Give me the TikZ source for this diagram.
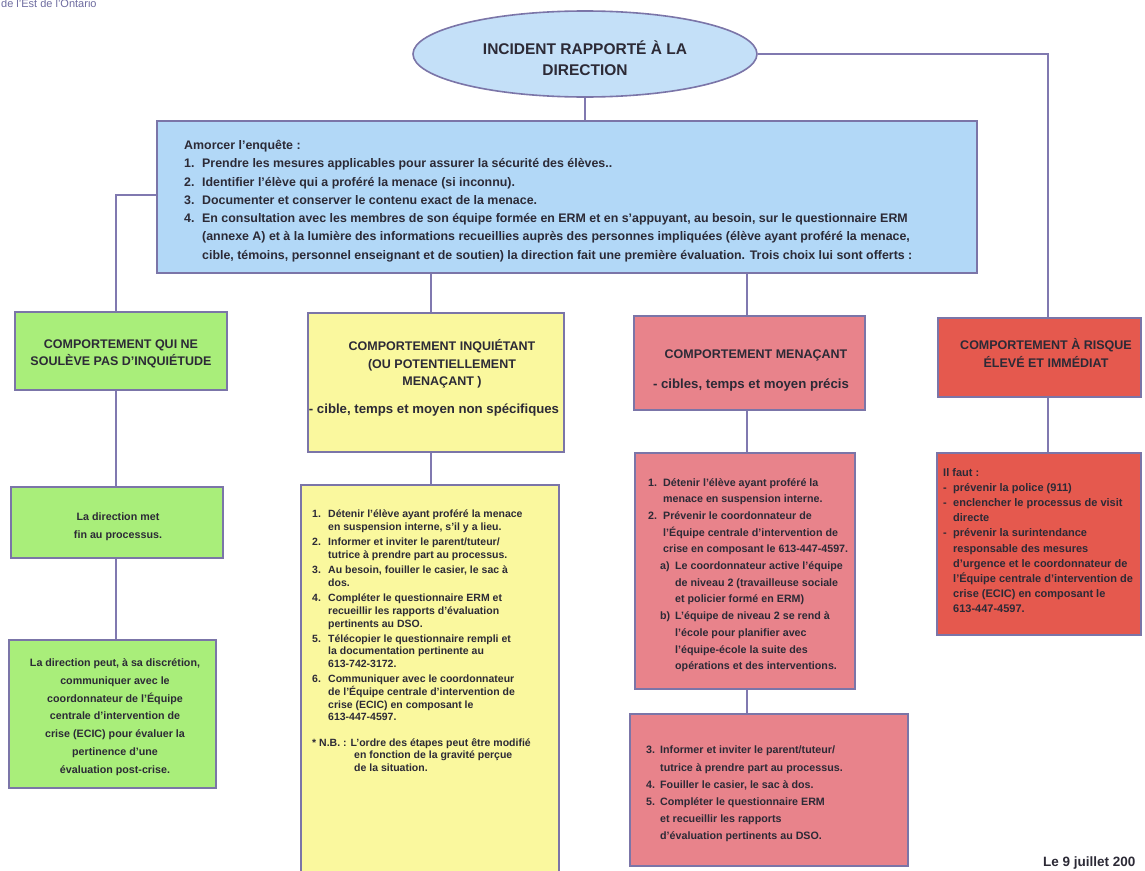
\documentclass[tikz,border=0pt]{standalone}
\usepackage{fontspec}
\setmainfont{Liberation Sans}
\usetikzlibrary{shapes.geometric,fit}
\definecolor{linec}{HTML}{8079B0}
\definecolor{boxc}{HTML}{7B75A8}
\definecolor{ellfill}{HTML}{C4E0F8}
\definecolor{bluefill}{HTML}{B2D8F7}
\definecolor{greenfill}{HTML}{A9EE7A}
\definecolor{yellowfill}{HTML}{FAF89E}
\definecolor{pinkfill}{HTML}{E8838B}
\definecolor{redfill}{HTML}{E5594E}
\definecolor{txtc}{HTML}{2C2A36}
\definecolor{topc}{HTML}{6E6CA0}
\newcommand{\fsTitle}{\fontsize{15.5}{21}\selectfont\bfseries}
\newcommand{\fsHead}{\fontsize{12.5}{17.5}\selectfont\bfseries}
\newcommand{\fsSub}{\fontsize{13.2}{17.5}\selectfont\bfseries}
\newcommand{\fsBlue}{\fontsize{12.4}{18.3}\selectfont\bfseries}
\newcommand{\fsY}{\fontsize{10.5}{12.7}\selectfont\bfseries}
\newcommand{\fsP}{\fontsize{10.7}{16.7}\selectfont\bfseries}
\newcommand{\fsPb}{\fontsize{10.7}{17.2}\selectfont\bfseries}
\newcommand{\fsG}{\fontsize{10.7}{17.8}\selectfont\bfseries}
\newcommand{\fsR}{\fontsize{11}{15.2}\selectfont\bfseries}
\newcommand{\itm}[2]{\makebox[#1][l]{#2}}
\begin{document}
\begin{tikzpicture}[x=1pt,y=-1pt,
  box/.style={draw=boxc, line width=1.8pt, inner sep=0pt},
  conn/.style={draw=linec, line width=1.5pt},
  txt/.style={text=txtc, inner sep=0pt}]
\useasboundingbox (0,0) rectangle (1145,870);
\clip (0,0) rectangle (1145,870);
\fill[white] (0,0) rectangle (1145,870);

% header text (cut off at top)
\node[anchor=base west, text=topc, inner sep=0pt, font=\fontsize{11}{12}\selectfont] (org) at (1,7) {de l'Est de l'Ontario};

% ellipse
\node[ellipse, draw=boxc, line width=1.6pt, fill=ellfill, minimum width=344pt, minimum height=86pt, inner sep=0pt] (ell) at (585,54) {};
\node[txt, font=\fsTitle, align=center] (ellt) at (585,58) {INCIDENT RAPPORTÉ À LA\\DIRECTION};

% blue box
\node[box, fill=bluefill, fit={(157,121) (977,273)}] (blue) {};
\node[txt, font=\fsBlue, align=left, anchor=north west] (bluet) at (184,140) {Amorcer l'enquête :\\
\itm{18pt}{1.}Prendre les mesures applicables pour assurer la sécurité des élèves..\\
\itm{18pt}{2.}Identifier l'élève qui a proféré la menace (si inconnu).\\
\itm{18pt}{3.}Documenter et conserver le contenu exact de la menace.\\
\itm{18pt}{4.}En consultation avec les membres de son équipe formée en ERM et en s'appuyant, au besoin, sur le questionnaire ERM\\
\hspace*{18pt}(annexe A) et à la lumière des informations recueillies auprès des personnes impliquées (élève ayant proféré la menace,\\
\hspace*{18pt}cible, témoins, personnel enseignant et de soutien) la direction fait une première évaluation. Trois choix lui sont offerts :};

% green column
\node[box, fill=greenfill, fit={(15,312) (227,390)}] (g1) {};
\node[txt, font=\fsHead, align=center] (g1t) at (121,354) {COMPORTEMENT QUI NE\\SOULÈVE PAS D'INQUIÉTUDE};
\node[box, fill=greenfill, fit={(11,487) (223,558)}] (g2) {};
\node[txt, font=\fsG, align=center] (g2t) at (118,527) {La direction met\\fin au processus.};
\node[box, fill=greenfill, fit={(9,640) (216,788)}] (g3) {};
\node[txt, font=\fsG, align=center] (g3t) at (115,717) {La direction peut, à sa discrétion,\\communiquer avec le\\coordonnateur de l'Équipe\\centrale d'intervention de\\crise (ECIC) pour évaluer la\\pertinence d'une\\évaluation post-crise.};

% yellow column
\node[box, fill=yellowfill, fit={(308,313) (564,452)}] (y1) {};
\node[txt, font=\fsHead, align=center] (y1t) at (442,364) {COMPORTEMENT INQUIÉTANT\\(OU POTENTIELLEMENT\\MENAÇANT )};
\node[txt, font=\fsSub] (y1s) at (434,410) {- cible, temps et moyen non spécifiques};
\node[box, fill=yellowfill, fit={(301,485) (559,880)}] (y2) {};
\node[txt, font=\fsY, align=left, anchor=north west] (y2t) at (312,510) {%
\itm{16pt}{1.}Détenir l'élève ayant proféré la menace\\
\hspace*{16pt}en suspension interne, s'il y a lieu.\\[2.5pt]
\itm{16pt}{2.}Informer et inviter le parent/tuteur/\\
\hspace*{16pt}tutrice à prendre part au processus.\\[2.5pt]
\itm{16pt}{3.}Au besoin, fouiller le casier, le sac à\\
\hspace*{16pt}dos.\\[2.5pt]
\itm{16pt}{4.}Compléter le questionnaire ERM et\\
\hspace*{16pt}recueillir les rapports d'évaluation\\
\hspace*{16pt}pertinents au DSO.\\[2.5pt]
\itm{16pt}{5.}Télécopier le questionnaire rempli et\\
\hspace*{16pt}la documentation pertinente au\\
\hspace*{16pt}613-742-3172.\\[2.5pt]
\itm{16pt}{6.}Communiquer avec le coordonnateur\\
\hspace*{16pt}de l'Équipe centrale d'intervention de\\
\hspace*{16pt}crise (ECIC) en composant le\\
\hspace*{16pt}613-447-4597.\\[12.5pt]
* N.B. : L'ordre des étapes peut être modifié\\
\hspace*{42pt}en fonction de la gravité perçue\\
\hspace*{42pt}de la situation.};

% pink column
\node[box, fill=pinkfill, fit={(634,316) (865,410)}] (p1) {};
\node[txt, font=\fsHead] (p1t) at (756,355) {COMPORTEMENT MENAÇANT};
\node[txt, font=\fsSub] (p1s) at (751,385) {- cibles, temps et moyen précis};
\node[box, fill=pinkfill, fit={(635,453) (855,689)}] (p2) {};
\node[txt, font=\fsP, align=left, anchor=north west] (p2t) at (648,478) {%
\itm{15pt}{1.}Détenir l'élève ayant proféré la\\
\hspace*{15pt}menace en suspension interne.\\
\itm{15pt}{2.}Prévenir le coordonnateur de\\
\hspace*{15pt}l'Équipe centrale d'intervention de\\
\hspace*{15pt}crise en composant le 613-447-4597.\\
\hspace*{12pt}\itm{15pt}{a)}Le coordonnateur active l'équipe\\
\hspace*{27pt}de niveau 2 (travailleuse sociale\\
\hspace*{27pt}et policier formé en ERM)\\
\hspace*{12pt}\itm{15pt}{b)}L'équipe de niveau 2 se rend à\\
\hspace*{27pt}l'école pour planifier avec\\
\hspace*{27pt}l'équipe-école la suite des\\
\hspace*{27pt}opérations et des interventions.};
\node[box, fill=pinkfill, fit={(630,714) (908,866)}] (p3) {};
\node[txt, font=\fsPb, align=left, anchor=north west] (p3t) at (646,746) {%
\itm{14pt}{3.}Informer et inviter le parent/tuteur/\\
\hspace*{14pt}tutrice à prendre part au processus.\\
\itm{14pt}{4.}Fouiller le casier, le sac à dos.\\
\itm{14pt}{5.}Compléter le questionnaire ERM\\
\hspace*{14pt}et recueillir les rapports\\
\hspace*{14pt}d'évaluation pertinents au DSO.};

% red column
\node[box, fill=redfill, fit={(938,318) (1141,397)}] (r1) {};
\node[txt, font=\fsHead, align=center] (r1t) at (1046,353) {COMPORTEMENT À RISQUE\\ÉLEVÉ ET IMMÉDIAT};
\node[box, fill=redfill, fit={(937,453) (1141,635)}] (r2) {};
\node[txt, font=\fsR, align=left, anchor=north west] (r2t) at (943,468) {%
Il faut :\\
\itm{10pt}{-}prévenir la police (911)\\
\itm{10pt}{-}enclencher le processus de visit\\
\hspace*{10pt}directe\\
\itm{10pt}{-}prévenir la surintendance\\
\hspace*{10pt}responsable des mesures\\
\hspace*{10pt}d'urgence et le coordonnateur de\\
\hspace*{10pt}l'Équipe centrale d'intervention de\\
\hspace*{10pt}crise (ECIC) en composant le\\
\hspace*{10pt}613-447-4597.};

% date
\node[txt, anchor=base west, font=\fontsize{13.5}{15}\selectfont\bfseries] (date) at (1043,866) {Le 9 juillet 200};

% connectors
\coordinate (lj) at (116,195);
\coordinate (yj) at (431,0);
\coordinate (pj) at (747,0);
\coordinate (rj) at (1048,0);
\draw[conn] (ell.south) -- (ell.south |- blue.north);
\draw[conn] (ell.east) -| (rj |- r1.north);
\draw[conn] (rj |- r1.south) -- (rj |- r2.north);
\draw[conn] (blue.west |- lj) -- (lj) -- (lj |- g1.north);
\draw[conn] (lj |- g1.south) -- (lj |- g2.north);
\draw[conn] (lj |- g2.south) -- (lj |- g3.north);
\draw[conn] (yj |- blue.south) -- (yj |- y1.north);
\draw[conn] (yj |- y1.south) -- (yj |- y2.north);
\draw[conn] (pj |- blue.south) -- (pj |- p1.north);
\draw[conn] (pj |- p1.south) -- (pj |- p2.north);
\draw[conn] (pj |- p2.south) -- (pj |- p3.north);
\end{tikzpicture}
\end{document}
